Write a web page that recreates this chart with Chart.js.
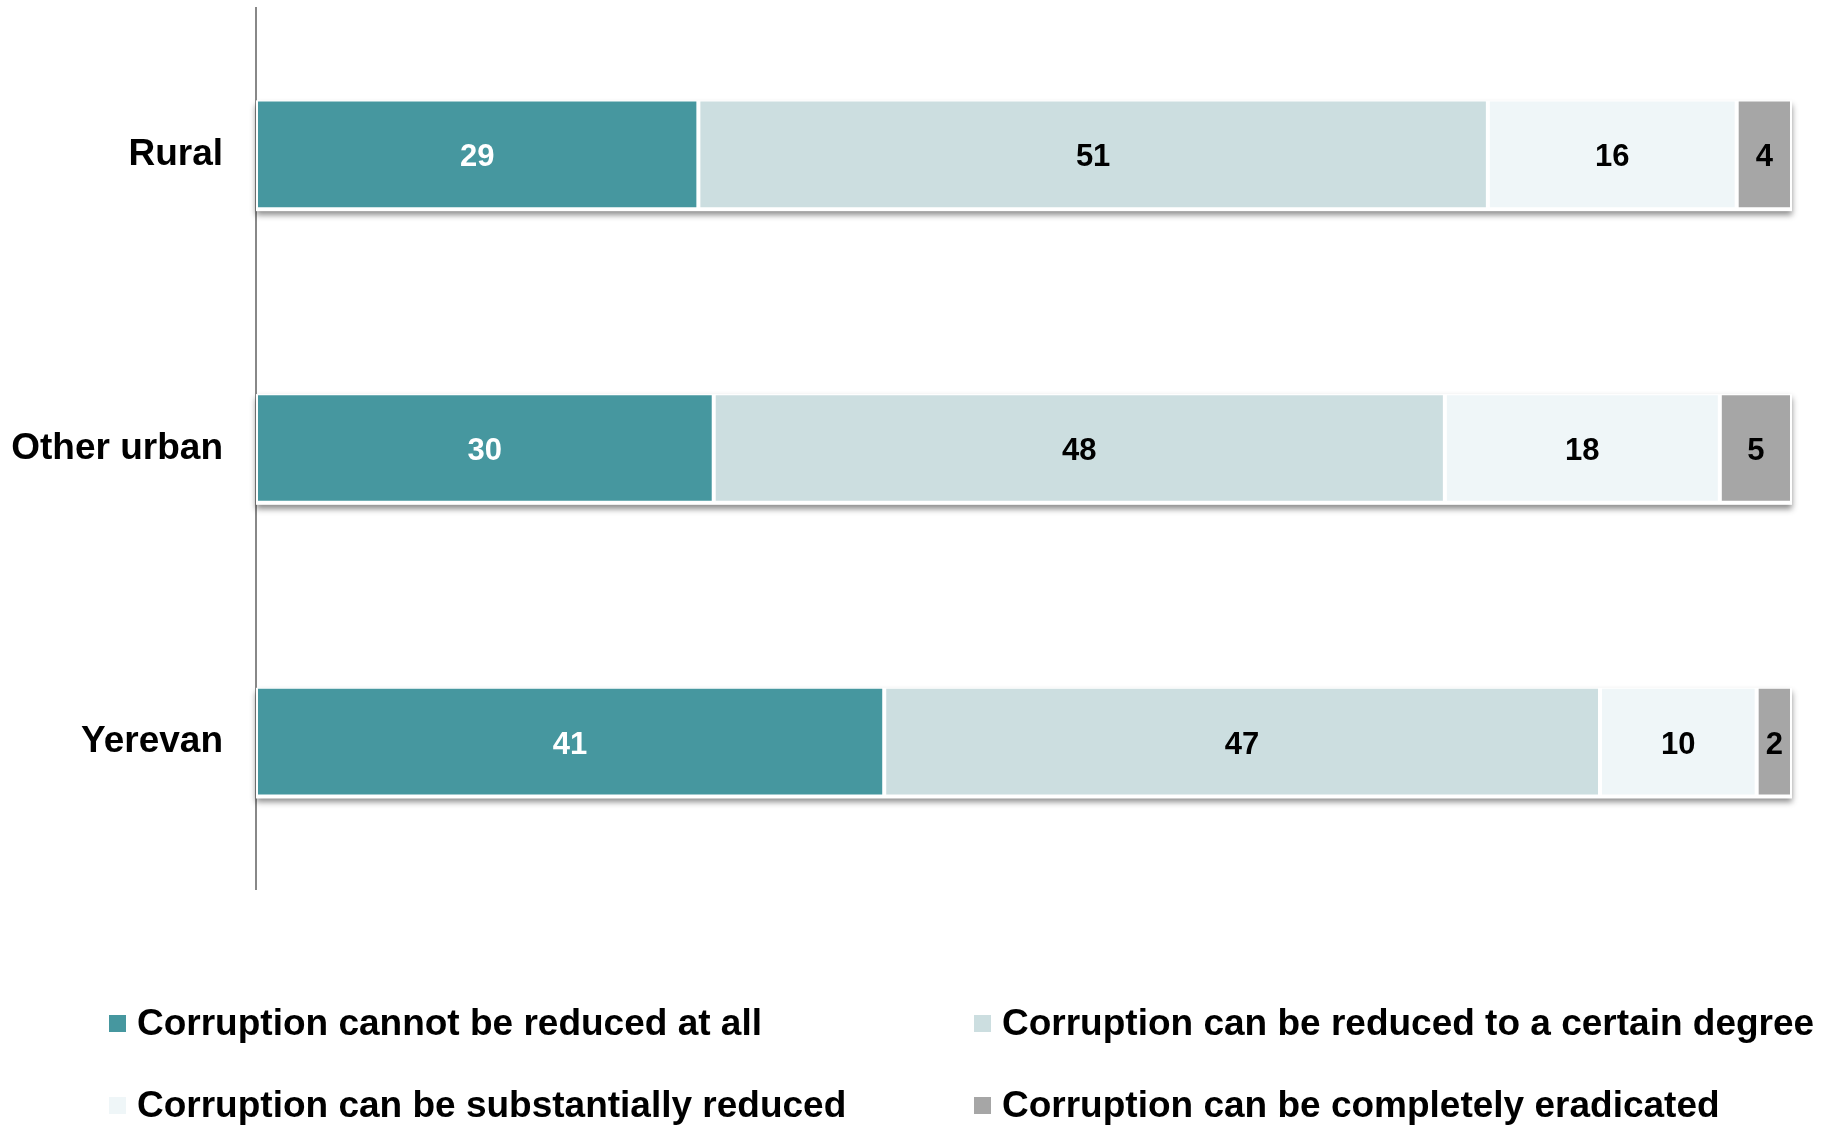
<!DOCTYPE html>
<html>
<head>
<meta charset="utf-8">
<script src="https://cdn.jsdelivr.net/npm/chart.js@4.4.1/dist/chart.umd.min.js"></script>
<style>
  html, body { margin: 0; padding: 0; background: #ffffff; }
  #wrap { position: relative; width: 1837px; height: 1126px; }
  #legend { position: absolute; left: 0; top: 0; width: 1837px; height: 1126px; pointer-events: none; }
  .item { position: absolute; display: flex; align-items: center; font: bold 37px "Liberation Sans", Arial, sans-serif; color: #000; white-space: nowrap; }
  .box { width: 17px; height: 17px; margin-right: 11px; }
</style>
</head>
<body>
<div id="wrap">
  <canvas id="chart"></canvas>
  <div id="legend"></div>
</div>
<script>
// Areas (top to bottom)
const categories = ['Rural', 'Other urban', 'Yerevan'];

// Share of respondents, % (labels shown rounded)
const cannotReduce = [28.8, 29.8, 40.9];
const reduceSomewhat = [51.4, 47.6, 46.6];
const reduceSubstantially = [16.2, 17.9, 10.2];
const eradicate = [3.6, 4.7, 2.3];

const seriesNames = [
    'Corruption cannot be reduced at all',
    'Corruption can be reduced to a certain degree',
    'Corruption can be substantially reduced',
    'Corruption can be completely eradicated'
];
const seriesColors = ['#46979F', '#CCDEE0', '#EFF6F8', '#A6A6A6'];
const labelColors = ['#ffffff', '#000000', '#000000', '#000000'];

// soft drop shadow under every full bar
const barShadow = {
    id: 'barShadow',
    beforeDatasetsDraw(chart) {
        const first = chart.getDatasetMeta(0).data;
        const last = chart.getDatasetMeta(chart.data.datasets.length - 1).data;
        const ctx = chart.ctx;
        ctx.save();
        ctx.shadowColor = 'rgba(0,0,0,0.45)';
        ctx.shadowBlur = 6;
        ctx.shadowOffsetY = 4;
        ctx.fillStyle = '#ffffff';
        first.forEach((bar, i) => {
            const end = last[i];
            ctx.fillRect(bar.base, bar.y - bar.height / 2, end.x - bar.base, bar.height + 2);
        });
        ctx.restore();
    }
};

// value labels in the middle of each segment
const segmentLabels = {
    id: 'segmentLabels',
    afterDraw(chart) {
        const ctx = chart.ctx;
        ctx.save();
        ctx.font = 'bold 31px "Liberation Sans", Arial, sans-serif';
        ctx.textAlign = 'center';
        ctx.textBaseline = 'middle';
        chart.data.datasets.forEach((ds, di) => {
            chart.getDatasetMeta(di).data.forEach((bar, i) => {
                ctx.fillStyle = labelColors[di];
                ctx.fillText(Math.round(ds.data[i]), (bar.base + bar.x) / 2, bar.y + 3);
            });
        });
        ctx.restore();
    }
};

const allSeries = [cannotReduce, reduceSomewhat, reduceSubstantially, eradicate];

const chart = new Chart(document.getElementById('chart'), {
    type: 'bar',
    data: {
        labels: categories,
        datasets: allSeries.map((values, i) => ({
            label: seriesNames[i],
            data: values,
            backgroundColor: seriesColors[i],
            borderColor: '#ffffff',
            borderWidth: { left: 2, right: 2, top: 1, bottom: 2 },
            borderSkipped: false,
            barPercentage: 0.37,
            categoryPercentage: 1
        }))
    },
    options: {
        indexAxis: 'y',
        responsive: true,
        maintainAspectRatio: false,
        animation: false,
        layout: { padding: { left: 10, right: 45, top: 8, bottom: 237 } },
        plugins: {
            legend: { display: false },
            tooltip: { enabled: false }
        },
        scales: {
            x: {
                stacked: true,
                min: 0,
                max: 100,
                display: false
            },
            y: {
                stacked: true,
                grid: { display: false, drawTicks: false },
                border: { display: true, color: '#888888', width: 2 },
                ticks: {
                    color: '#000000',
                    padding: 33,
                    font: { family: '"Liberation Sans", Arial, sans-serif', size: 37, weight: 'bold' }
                },
                afterFit(scale) {
                    scale.width = 246;
                    scale.paddingTop = 0;
                    scale.paddingBottom = 0;
                }
            }
        }
    },
    plugins: [barShadow, segmentLabels]
});

// legend: two columns, two rows
const legendPos = [
    { left: 109, top: 1023 },
    { left: 974, top: 1023 },
    { left: 109, top: 1105 },
    { left: 974, top: 1105 }
];
const legendEl = document.getElementById('legend');
chart.data.datasets.forEach((ds, i) => {
    const item = document.createElement('div');
    item.className = 'item';
    item.style.left = legendPos[i].left + 'px';
    item.style.top = (legendPos[i].top - 22) + 'px';
    item.style.height = '44px';
    const box = document.createElement('span');
    box.className = 'box';
    box.style.background = ds.backgroundColor;
    item.appendChild(box);
    item.appendChild(document.createTextNode(ds.label));
    legendEl.appendChild(item);
});
</script>
</body>
</html>
